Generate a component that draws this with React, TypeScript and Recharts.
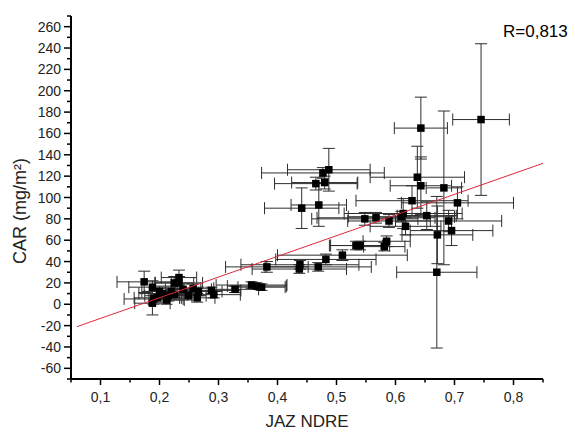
import { ScatterChart, Scatter, XAxis, YAxis, ErrorBar } from 'recharts';

// JAZ NDRE (x) vs CAR mg/m2 (y)
const ndre = [
  0.174, 0.188, 0.188, 0.19, 0.197, 0.205, 0.212, 0.22, 0.225, 0.226,
  0.233, 0.233, 0.24, 0.249, 0.257, 0.266, 0.264, 0.288, 0.292, 0.328,
  0.356, 0.365, 0.373, 0.215, 0.2,
  0.382, 0.438, 0.437, 0.469, 0.482, 0.51, 0.533, 0.54, 0.581, 0.585,
  0.441, 0.47, 0.465, 0.48, 0.477, 0.487, 0.548, 0.567, 0.589, 0.61,
  0.613, 0.617, 0.628, 0.637, 0.643, 0.643, 0.653, 0.69, 0.705, 0.695,
  0.671, 0.682, 0.67, 0.745,
];
const car = [
  21, 16, 1, 5, 6, 10, 4, 12, 20, 9,
  25, 20, 14, 8, 15, 12, 6, 13, 9, 14,
  18, 17, 16, 8, 12,
  35, 37, 33, 35, 42, 46, 55, 55, 54, 59,
  90, 93, 113, 114, 123, 126, 80, 81, 78, 82,
  85, 73, 97, 119, 111, 165, 83, 78, 95, 69,
  65, 109, 30, 173,
];
const ndreErr = [
  0.046, 0.04, 0.03, 0.05, 0.04, 0.04, 0.03, 0.035, 0.033, 0.04,
  0.03, 0.04, 0.03, 0.03, 0.035, 0.04, 0.03, 0.05, 0.045, 0.04,
  0.06, 0.05, 0.04, 0.04, 0.03,
  0.07, 0.1, 0.08, 0.09, 0.085, 0.11, 0.045, 0.05, 0.035, 0.04,
  0.063, 0.047, 0.07, 0.056, 0.104, 0.07, 0.09, 0.1, 0.07, 0.09,
  0.1, 0.06, 0.095, 0.08, 0.052, 0.045, 0.05, 0.09, 0.095, 0.07,
  0.06, 0.03, 0.068, 0.048,
];
const carErr = [
  10, 6, 11, 5, 4, 5, 4, 5, 6, 5,
  7, 6, 5, 4, 4, 4, 4, 3, 3, 3,
  3, 3, 3, 5, 5,
  5, 4, 4, 4, 5, 5, 4, 4, 4, 5,
  19, 20, 6, 6, 5, 20, 6, 5, 6, 5,
  14, 8, 14, 29, 27, 29, 13, 10, 15, 14,
  27, 72, 71, 71,
];

// linear fit
const fitNdre = [0.06, 0.85];
const fitCar = [-21, 132];

const xTicks = [0.05, 0.1, 0.15, 0.2, 0.25, 0.3, 0.35, 0.4, 0.45, 0.5, 0.55, 0.6, 0.65, 0.7, 0.75, 0.8, 0.85];
const yTicks = [
  -70, -60, -50, -40, -30, -20, -10, 0, 10, 20, 30, 40, 50, 60, 70, 80, 90, 100, 110, 120,
  130, 140, 150, 160, 170, 180, 190, 200, 210, 220, 230, 240, 250, 260, 270,
];

const font = '"Liberation Sans", Arial, sans-serif';

const points = ndre.map((x, i) => ({ x, y: car[i], ex: ndreErr[i], ey: carErr[i] }));
const fit = fitNdre.map((x, i) => ({ x, y: fitCar[i] }));

const XTick = (props: any) => {
  const { x, y, payload } = props;
  const v = payload.value;
  const major = Math.abs(v * 10 - Math.round(v * 10)) < 1e-6;
  return (
    <g>
      <line x1={x} x2={x} y1={y} y2={y + (major ? 6 : 3.5)} stroke="#000" strokeWidth={1.5} />
      {major && (
        <text x={x} y={y + 23} textAnchor="middle" fontSize={14} fill="#222" fontFamily={font}>
          {v.toFixed(1).replace('.', ',')}
        </text>
      )}
    </g>
  );
};

const YTick = (props: any) => {
  const { x, y, payload } = props;
  const v = payload.value;
  const major = v % 20 === 0;
  return (
    <g>
      <line x1={x} x2={x - (major ? 7 : 4)} y1={y} y2={y} stroke="#000" strokeWidth={1.5} />
      {major && (
        <text x={x - 10} y={y} dy="0.36em" textAnchor="end" fontSize={14} fill="#222" fontFamily={font}>
          {v}
        </text>
      )}
    </g>
  );
};

const Square = (props: any) => {
  const { cx, cy } = props;
  return <rect x={cx - 3.75} y={cy - 3.75} width={7.5} height={7.5} fill="#000" />;
};

export default function App() {
  return (
    <div style={{ position: 'absolute', left: 0, top: 0, width: 575, height: 432, background: '#fff' }}>
      <ScatterChart width={575} height={432} margin={{ top: 16, right: 32, bottom: 0, left: 0 }}>
        <XAxis
          dataKey="x"
          type="number"
          domain={[0.05, 0.85]}
          allowDataOverflow
          ticks={xTicks}
          interval={0}
          height={53}
          tickSize={0}
          tickMargin={0}
          tickLine={false}
          tick={<XTick />}
          axisLine={{ stroke: '#000', strokeWidth: 2 }}
        />
        <YAxis
          dataKey="y"
          type="number"
          domain={[-70, 270]}
          allowDataOverflow
          ticks={yTicks}
          interval={0}
          width={71}
          tickSize={0}
          tickMargin={0}
          tickLine={false}
          tick={<YTick />}
          axisLine={{ stroke: '#000', strokeWidth: 2 }}
        />
        <Scatter data={points} shape={<Square />} isAnimationActive={false}>
          <ErrorBar dataKey="ex" direction="x" width={6} stroke="#2e2e2e" strokeWidth={1} />
          <ErrorBar dataKey="ey" direction="y" width={6} stroke="#2e2e2e" strokeWidth={1} />
        </Scatter>
        <Scatter
          data={fit}
          line={{ stroke: '#e0283a', strokeWidth: 1 }}
          shape={() => <g />}
          isAnimationActive={false}
        />
      </ScatterChart>
      <svg width={575} height={432} style={{ position: 'absolute', left: 0, top: 0, pointerEvents: 'none' }}>
        <text x={503} y={37} fontSize={17} fill="#000" fontFamily={font}>R=0,813</text>
        <text x={307} y={427} textAnchor="middle" fontSize={17} fill="#222" fontFamily={font}>JAZ NDRE</text>
        <text
          x={20}
          y={211}
          textAnchor="middle"
          dominantBaseline="central"
          fontSize={18}
          fill="#222"
          fontFamily={font}
          transform="rotate(-90 20 211)"
        >
          CAR (mg/m²)
        </text>
      </svg>
    </div>
  );
}
